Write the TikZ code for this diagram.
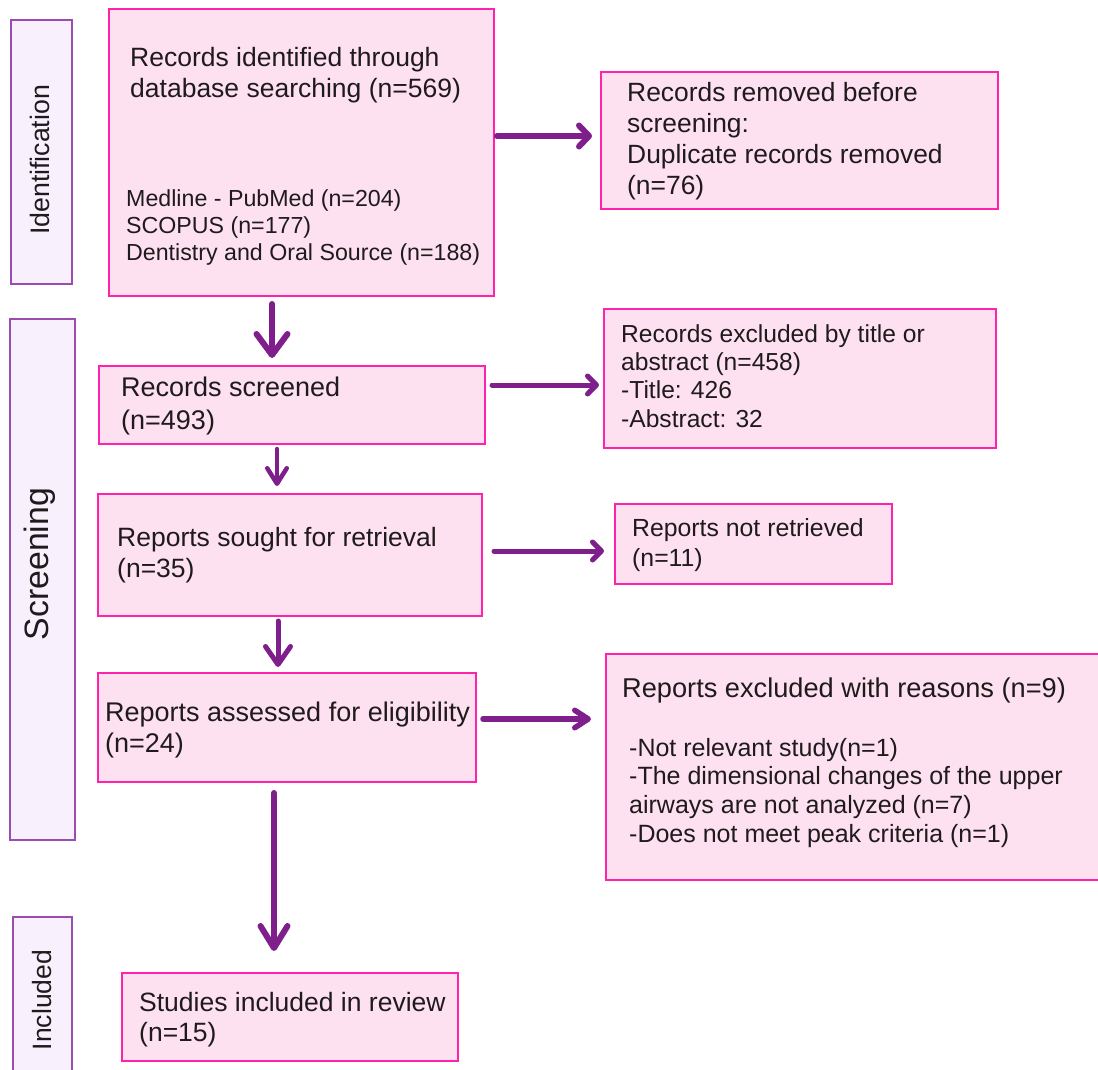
\documentclass[tikz,border=0pt]{standalone}
\usepackage{fontspec}
\setmainfont{Liberation Sans}
\usetikzlibrary{arrows.meta,fit,calc}
\definecolor{pinkfill}{HTML}{FDE1F0}
\definecolor{pinkline}{HTML}{FF22AA}
\definecolor{sidefill}{HTML}{F8F0FC}
\definecolor{sideline}{HTML}{9A4CB0}
\definecolor{arrcol}{HTML}{7E1F8C}
\definecolor{txt}{HTML}{1F1A1C}
\newcommand{\fsz}[2]{\fontsize{#1}{#2}\selectfont}
\begin{document}
\begin{tikzpicture}[x=1pt,y=-1pt,
  pinkbox/.style={draw=pinkline, fill=pinkfill, line width=2pt, inner sep=0pt},
  sidebox/.style={draw=sideline, fill=sidefill, line width=2pt, inner sep=0pt},
  txtnode/.style={anchor=north west, inner sep=0pt, align=left, text=txt},
  sidelabel/.style={rotate=90, inner sep=0pt, text=txt},
  conn/.style n args={3}{draw=arrcol, line width=#1, line cap=round,
     -{Straight Barb[round, length=#2, width=#3]}}
]
\useasboundingbox (0,0) rectangle (1098,1070);
\clip (0,0) rectangle (1098,1070);

% side boxes
\node[sidebox, fit={(10.5,20)(72,284)}] (sid) {};
\node[sidebox, fit={(9.5,319)(74.5,840)}] (sscr) {};
\node[sidebox, fit={(13,917)(72,1080)}] (sinc) {};
\node[sidelabel, font={\fsz{26.7}{30}}] (lid) at (40,160) {Identification};
\node[sidelabel, font={\fsz{33.8}{38}}] (lscr) at (40,564) {Screening};
\node[sidelabel, font={\fsz{26.5}{30}}] (linc) at (42,1000) {Included};

% main boxes
\node[pinkbox, fit={(108.7,9.5)(493.5,296)}] (A) {};
\node[pinkbox, fit={(601,72)(998,209)}] (B) {};
\node[pinkbox, fit={(604,309)(996,448)}] (C) {};
\node[pinkbox, fit={(99,366)(485,444)}] (scr) {};
\node[pinkbox, fit={(98,494)(482,616)}] (sought) {};
\node[pinkbox, fit={(615,504)(892,584)}] (nr) {};
\node[pinkbox, fit={(98,673)(476,782)}] (assess) {};
\node[pinkbox, fit={(606,654)(1110,880)}] (ex) {};
\node[pinkbox, fit={(122,973)(458,1061)}] (stud) {};

% texts
\node[txtnode, font={\fsz{26.5}{31}}] (tA) at (130,44.8) {\strut Records identified through\\database searching (n=569)};
\node[txtnode, font={\fsz{23.2}{27}}] (tA2) at (126,187.5) {\strut Medline - PubMed (n=204)\\SCOPUS (n=177)\\Dentistry and Oral Source (n=188)};
\node[txtnode, font={\fsz{26.4}{31}}] (tB) at (627,79.8) {\strut Records removed before\\screening:\\Duplicate records removed\\(n=76)};
\node[txtnode, font={\fsz{24.6}{28.3}}] (tC) at (621,322.1) {\strut Records excluded by title or\\abstract (n=458)\\-Title: 426\\-Abstract: 32};
\node[txtnode, font={\fsz{27}{33}}] (tscr) at (121,373.6) {\strut Records screened\\(n=493)};
\node[txtnode, font={\fsz{26.5}{31}}] (tsought) at (117,524.8) {\strut Reports sought for retrieval\\(n=35)};
\node[txtnode, font={\fsz{24.8}{30}}] (tnr) at (632,514.9) {\strut Reports not retrieved\\(n=11)};
\node[txtnode, font={\fsz{27}{31}}] (tassess) at (105,700) {\strut Reports assessed for eligibility\\(n=24)};
\node[txtnode, font={\fsz{27.2}{30}}] (tex) at (622,675.8) {\strut Reports excluded with reasons (n=9)};
\node[txtnode, font={\fsz{25}{28.7}}] (tex2) at (629,735.9) {\strut -Not relevant study(n=1)\\-The dimensional changes of the upper\\airways are not analyzed (n=7)\\-Does not meet peak criteria (n=1)};
\node[txtnode, font={\fsz{26.5}{30}}] (tstud) at (139,990.5) {\strut Studies included in review\\(n=15)};

% connector guide coordinates
\coordinate (r1) at (0,136);
\coordinate (r2) at (0,385);
\coordinate (r3) at (0,551);
\coordinate (r4) at (0,719);
\coordinate (k1) at (272,0);
\coordinate (k2) at (277,0);
\coordinate (k3) at (278,0);
\coordinate (k4) at (274,0);

% connectors
\draw[conn={6pt}{10pt}{21pt}, shorten <=2.5pt, shorten >=8pt] (A.east |- r1) -- (B.west |- r1);
\draw[conn={6pt}{21pt}{31pt}, shorten <=7pt, shorten >=7pt] (A.south -| k1) -- (scr.north -| k1);
\draw[conn={5pt}{9pt}{18pt}, shorten <=6pt, shorten >=4pt] (scr.east |- r2) -- (C.west |- r2);
\draw[conn={4.5pt}{15.5pt}{19.5pt}, shorten <=4pt, shorten >=7pt] (scr.south -| k2) -- (sought.north -| k2);
\draw[conn={5pt}{9pt}{18pt}, shorten <=11pt, shorten >=10pt] (sought.east |- r3) -- (nr.west |- r3);
\draw[conn={5pt}{18pt}{25pt}, shorten <=4pt, shorten >=5pt] (sought.south -| k3) -- (assess.north -| k3);
\draw[conn={5.5pt}{13.5pt}{17.5pt}, shorten <=6pt, shorten >=14pt] (assess.east |- r4) -- (ex.west |- r4);
\draw[conn={6pt}{22pt}{27pt}, shorten <=10pt, shorten >=21pt] (assess.south -| k4) -- (stud.north -| k4);
\end{tikzpicture}
\end{document}
